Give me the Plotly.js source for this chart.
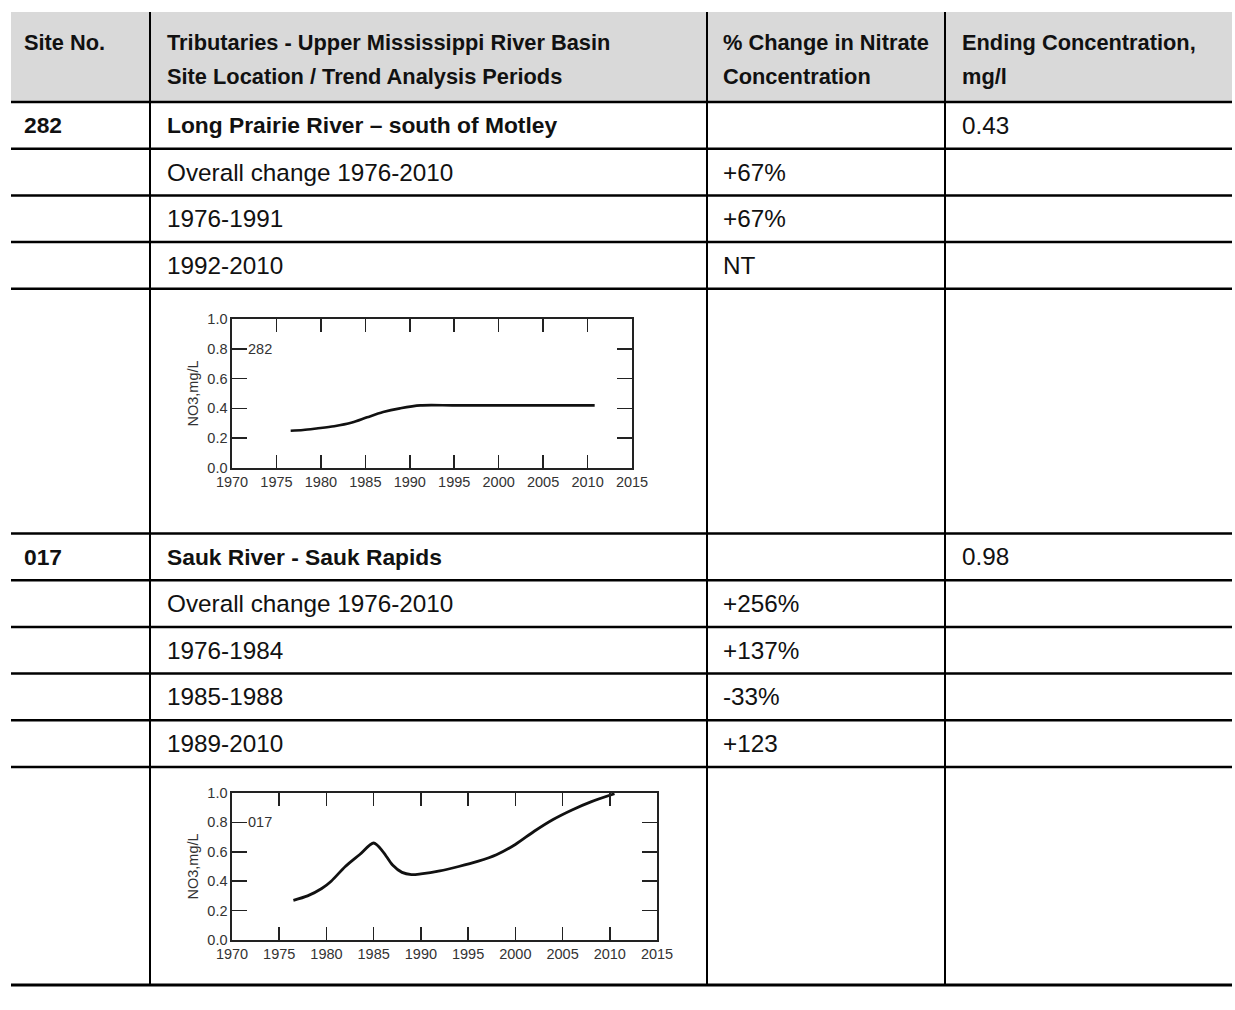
<!DOCTYPE html>
<html><head><meta charset="utf-8">
<script src="https://cdn.plot.ly/plotly-3.0.1.min.js"></script>
<style>html,body{margin:0;padding:0;background:#fff}</style>
</head><body>
<div id="chart" style="width:1235px;height:1010px"></div>
<script>
// ---------- data ----------
const headerSite = ["Site No."];
const headerLocation = ["Tributaries - Upper Mississippi River Basin", "Site Location / Trend Analysis Periods"];
const headerChange = ["% Change in Nitrate", "Concentration"];
const headerEnding = ["Ending Concentration,", "mg/l"];

const siteNos = ["282", "017"];
const siteNames = ["Long Prairie River – south of Motley", "Sauk River - Sauk Rapids"];
const endingConc = ["0.43", "0.98"];

const periods282 = ["Overall change 1976-2010", "1976-1991", "1992-2010"];
const change282 = ["+67%", "+67%", "NT"];
const periods017 = ["Overall change 1976-2010", "1976-1984", "1985-1988", "1989-2010"];
const change017 = ["+256%", "+137%", "-33%", "+123"];

const years282 = [1976.6, 1978, 1979.5, 1981.5, 1983.5, 1985.2, 1987, 1988.9, 1991.2, 1995, 2000, 2005, 2010.8];
const no3_282  = [0.25, 0.255, 0.265, 0.28, 0.305, 0.34, 0.375, 0.40, 0.42, 0.42, 0.42, 0.42, 0.42];

const years017 = [1976.5, 1978, 1979.5, 1980.5, 1982, 1983.5, 1985, 1986, 1987, 1988, 1989, 1990, 1992, 1994, 1996, 1998, 2000, 2002, 2004, 2006, 2008, 2010.5];
const no3_017  = [0.27, 0.30, 0.35, 0.40, 0.50, 0.58, 0.66, 0.60, 0.51, 0.46, 0.445, 0.45, 0.47, 0.50, 0.535, 0.58, 0.65, 0.74, 0.82, 0.885, 0.94, 0.995];

const xTickVals = [1970, 1975, 1980, 1985, 1990, 1995, 2000, 2005, 2010, 2015];
const yTickVals = [0.0, 0.2, 0.4, 0.6, 0.8, 1.0];
const yAxisTitle = "NO3,mg/L";

// ---------- geometry helpers ----------
const W = 1235, H = 1010;
const px = x => x / W;
const py = y => 1 - y / H;

const tableLeft = 11, tableRight = 1232;
const headTop = 12, headBottom = 102;
const colDividers = [150, 707, 945];
const colText = [22, 165, 721, 960];
const rowH = 46.7;
const sec1Top = headBottom;
const chart1Top = sec1Top + 4 * rowH;
const sec2Top = 533.5;
const chart2Top = sec2Top + 5 * rowH;
const tableBottom = 985;

const FONT = "Liberation Sans, Arial, sans-serif";
const SIZE_HEAD = 21.8, SIZE_BOLD = 22.8, SIZE_REG = 24.3;

const shapes = [];
const annotations = [];

// header background
shapes.push({type:'rect', xref:'paper', yref:'paper', x0:px(tableLeft), x1:px(tableRight), y0:py(headBottom), y1:py(headTop), fillcolor:'#d9d9d9', line:{width:0}, layer:'below'});

function hline(y, w) {
  shapes.push({type:'line', xref:'paper', yref:'paper', x0:px(tableLeft), x1:px(tableRight), y0:py(y), y1:py(y), line:{color:'#000', width:w||2.5}});
}
function vline(x, y0, y1) {
  shapes.push({type:'line', xref:'paper', yref:'paper', x0:px(x), x1:px(x), y0:py(y0), y1:py(y1), line:{color:'#000', width:2}});
}
function txt(s, x, y, size, bold) {
  annotations.push({xref:'paper', yref:'paper', x:px(x), y:py(y), text:s, showarrow:false, xanchor:'left', yanchor:'middle',
    font:{family:FONT, size:size, color:'#111', weight: bold ? 'bold' : 'normal'}});
}

colDividers.forEach(x => vline(x, headTop, tableBottom));

// header text
txt(headerSite[0], colText[0], 42, SIZE_HEAD, true);
headerLocation.forEach((s, i) => txt(s, colText[1], 42 + 35 * i, SIZE_HEAD, true));
headerChange.forEach((s, i) => txt(s, colText[2], 42 + 35 * i, SIZE_HEAD, true));
headerEnding.forEach((s, i) => txt(s, colText[3], 42 + 35 * i, SIZE_HEAD, true));

// section 1
hline(sec1Top);
txt(siteNos[0], colText[0], sec1Top + rowH / 2, SIZE_BOLD, true);
txt(siteNames[0], colText[1], sec1Top + rowH / 2, SIZE_BOLD, true);
txt(endingConc[0], colText[3], sec1Top + rowH / 2, SIZE_REG, false);
periods282.forEach((p, i) => {
  const top = sec1Top + (i + 1) * rowH;
  hline(top);
  txt(p, colText[1], top + rowH / 2, SIZE_REG, false);
  txt(change282[i], colText[2], top + rowH / 2, SIZE_REG, false);
});
hline(chart1Top);

// section 2
hline(sec2Top);
txt(siteNos[1], colText[0], sec2Top + rowH / 2, SIZE_BOLD, true);
txt(siteNames[1], colText[1], sec2Top + rowH / 2, SIZE_BOLD, true);
txt(endingConc[1], colText[3], sec2Top + rowH / 2, SIZE_REG, false);
periods017.forEach((p, i) => {
  const top = sec2Top + (i + 1) * rowH;
  hline(top);
  txt(p, colText[1], top + rowH / 2, SIZE_REG, false);
  txt(change017[i], colText[2], top + rowH / 2, SIZE_REG, false);
});
hline(chart2Top);
hline(tableBottom, 3);

// chart boxes
const c1 = {l:232, r:632, t:319, b:468};
const c2 = {l:232, r:657, t:793, b:940};

const CF = "Liberation Sans, Arial, sans-serif";
const CSIZE = 14.5;
function xaxisDef(c, anchor) {
  return {domain:[px(c.l), px(c.r)], anchor:anchor, range:[1970, 2015], tickvals:xTickVals, ticktext:xTickVals.map(String),
    ticks:'inside', ticklen:13, tickwidth:1.6, tickcolor:'#222', mirror:'ticks', showline:true, linecolor:'#222', linewidth:1.6,
    showgrid:false, zeroline:false, tickfont:{family:CF, size:CSIZE, color:'#333'}, fixedrange:true};
}
function yaxisDef(c, anchor) {
  return {domain:[py(c.b), py(c.t)], anchor:anchor, range:[0, 1], tickvals:yTickVals, ticktext:yTickVals.map(v => v.toFixed(1)),
    ticks:'inside', ticklen:15, tickwidth:1.6, tickcolor:'#222', mirror:'ticks', showline:true, linecolor:'#222', linewidth:1.6,
    showgrid:false, zeroline:false, tickfont:{family:CF, size:CSIZE, color:'#333'}, fixedrange:true};
}

// axis titles and site labels
[[c1, 'y', siteNos[0]], [c2, 'y2', siteNos[1]]].forEach(([c, yr, lab]) => {
  annotations.push({xref:'paper', yref:'paper', x:px(c.l - 40), y:py((c.t + c.b) / 2), text:yAxisTitle, textangle:-90, showarrow:false,
    xanchor:'center', yanchor:'middle', font:{family:CF, size:CSIZE, color:'#333'}});
  annotations.push({xref:'paper', yref:yr, x:px(c.l + 14), y:0.8, text:lab, showarrow:false, xanchor:'left', yanchor:'middle',
    font:{family:CF, size:CSIZE, color:'#333'}});
});

const traces = [
  {x:years282, y:no3_282, type:'scatter', mode:'lines', line:{color:'#111', width:2.6, shape:'spline', smoothing:0.9}, xaxis:'x', yaxis:'y', hoverinfo:'skip'},
  {x:years017, y:no3_017, type:'scatter', mode:'lines', line:{color:'#111', width:2.8, shape:'spline', smoothing:0.8}, xaxis:'x2', yaxis:'y2', hoverinfo:'skip'}
];

const layout = {
  width:W, height:H, margin:{l:0, r:0, t:0, b:0}, paper_bgcolor:'#fff', plot_bgcolor:'rgba(0,0,0,0)', showlegend:false,
  xaxis:xaxisDef(c1, 'y'), yaxis:yaxisDef(c1, 'x'),
  xaxis2:xaxisDef(c2, 'y2'), yaxis2:yaxisDef(c2, 'x2'),
  shapes:shapes, annotations:annotations
};

Plotly.newPlot('chart', traces, layout, {staticPlot:true, displayModeBar:false});
</script>
</body></html>
